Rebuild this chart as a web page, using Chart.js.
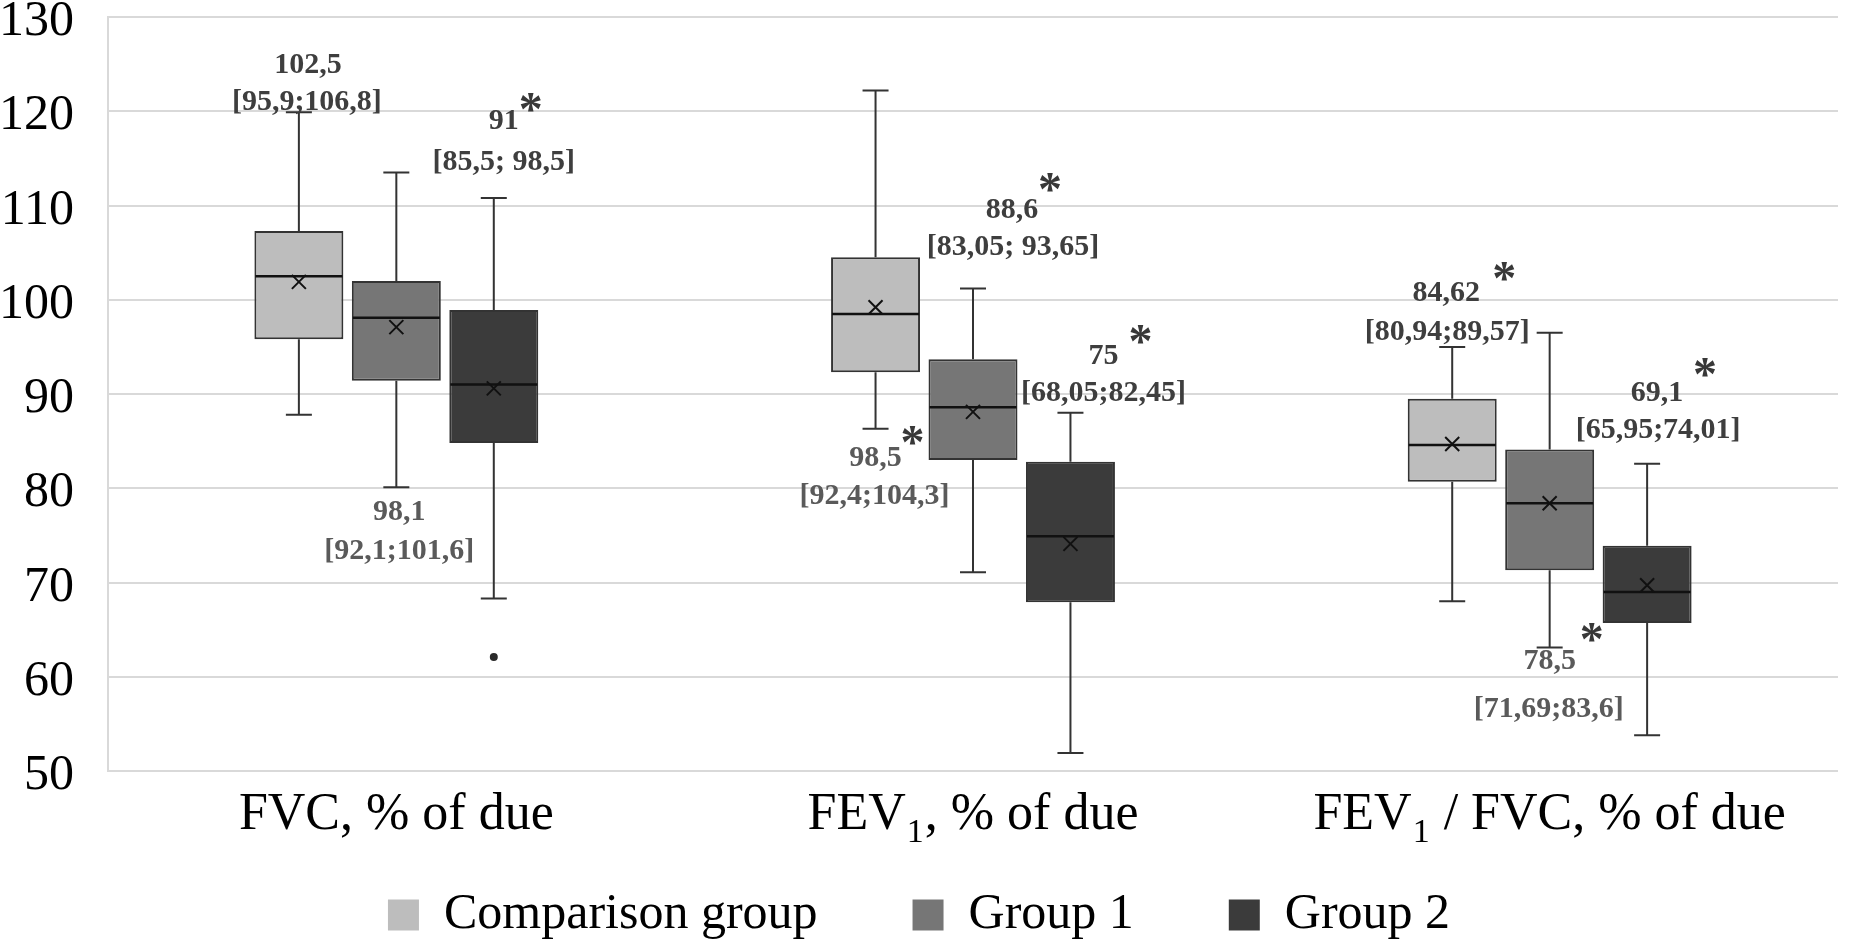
<!DOCTYPE html>
<html>
<head>
<meta charset="utf-8">
<script src="https://cdn.jsdelivr.net/npm/chart.js@4.4.1/dist/chart.umd.min.js"></script>
<style>
    body { margin: 0; background: #ffffff; }
    #wrap { width: 1852px; height: 950px; }
</style>
</head>
<body>
<div id="wrap"><canvas id="spiro"></canvas></div>
<script>
// categories and groups
var categories = ["FVC, % of due", "FEV₁, % of due", "FEV₁ / FVC, % of due"];
var groups = ["Comparison group", "Group 1", "Group 2"];

// box plot statistics, one row per group, one value per category
var whiskerLow = [
    [87.8, 86.3, 68.0],
    [80.1, 71.1, 63.1],
    [68.3, 51.9, 53.8],
];
var quartile1 = [
    [95.8, 92.3, 80.7],
    [91.4, 83.0, 71.3],
    [84.8, 67.9, 65.7],
];
var medians = [
    [102.5, 98.5, 84.6],
    [98.1, 88.6, 78.4],
    [91.0, 74.9, 69.0],
];
var quartile3 = [
    [107.3, 104.5, 89.5],
    [102.0, 93.7, 84.1],
    [98.9, 82.8, 73.9],
];
var whiskerHigh = [
    [119.9, 122.2, 95.0],
    [113.5, 101.2, 96.5],
    [110.8, 88.0, 82.6],
];
var means = [
    [101.9, 99.2, 84.7],
    [97.1, 88.1, 78.4],
    [90.6, 74.1, 69.7],
];
var outliers = [
    [[], [], []],
    [[], [], []],
    [[62.1], [], []],
];

// y axis ticks
var yMin = 50;
var yMax = 130;
var yStep = 10;

var fills = ["#bdbdbd", "#767676", "#3b3b3b"];

// median [IQR] annotations: category, group, value anchor, pixel shift
var notes = [
    { c: 0, g: 0, v: 124.9, dx: 9, t: "102,5" },
    { c: 0, g: 0, v: 121.0, dx: 8, t: "[95,9;106,8]" },
    { c: 0, g: 2, v: 118.9, dx: 10, t: "91" },
    { c: 0, g: 2, v: 121.0, dx: 37, t: "*" },
    { c: 0, g: 2, v: 114.6, dx: 10, t: "[85,5; 98,5]" },
    { c: 0, g: 1, v: 77.5, dx: 3, t: "98,1", light: true },
    { c: 0, g: 1, v: 73.3, dx: 3, t: "[92,1;101,6]", light: true },
    { c: 1, g: 1, v: 109.5, dx: 39, t: "88,6" },
    { c: 1, g: 1, v: 112.5, dx: 77, t: "*" },
    { c: 1, g: 1, v: 105.6, dx: 40, t: "[83,05; 93,65]" },
    { c: 1, g: 2, v: 94.0, dx: 33, t: "75" },
    { c: 1, g: 2, v: 96.4, dx: 70, t: "*" },
    { c: 1, g: 2, v: 90.1, dx: 33, t: "[68,05;82,45]" },
    { c: 1, g: 0, v: 83.2, dx: 0, t: "98,5", light: true },
    { c: 1, g: 0, v: 85.6, dx: 37, t: "*" },
    { c: 1, g: 0, v: 79.1, dx: -1, t: "[92,4;104,3]", light: true },
    { c: 2, g: 0, v: 100.7, dx: -6, t: "84,62" },
    { c: 2, g: 0, v: 103.0, dx: 52, t: "*" },
    { c: 2, g: 0, v: 96.6, dx: -5, t: "[80,94;89,57]" },
    { c: 2, g: 2, v: 90.1, dx: 10, t: "69,1" },
    { c: 2, g: 2, v: 92.9, dx: 58, t: "*" },
    { c: 2, g: 2, v: 86.2, dx: 11, t: "[65,95;74,01]" },
    { c: 2, g: 1, v: 61.6, dx: 0, t: "78,5", light: true },
    { c: 2, g: 1, v: 64.8, dx: 42, t: "*" },
    { c: 2, g: 1, v: 56.6, dx: -1, t: "[71,69;83,6]", light: true },
];

var serif = "'Liberation Serif', 'Times New Roman', serif";

// whiskers, medians, means, outliers and the text around the boxes
var boxExtras = {
    id: "boxExtras",
    afterDatasetsDraw: function (chart) {
        var ctx = chart.ctx;
        var y = chart.scales.y;
        ctx.save();
        chart.data.datasets.forEach(function (ds, g) {
            chart.getDatasetMeta(g).data.forEach(function (bar, c) {
                var x = bar.x;
                var half = bar.width / 2;
                var cap = 13;
                ctx.strokeStyle = "#333333";
                ctx.lineWidth = 2;
                ctx.beginPath();
                ctx.moveTo(x, y.getPixelForValue(quartile3[g][c]));
                ctx.lineTo(x, y.getPixelForValue(whiskerHigh[g][c]));
                ctx.moveTo(x - cap, y.getPixelForValue(whiskerHigh[g][c]));
                ctx.lineTo(x + cap, y.getPixelForValue(whiskerHigh[g][c]));
                ctx.moveTo(x, y.getPixelForValue(quartile1[g][c]));
                ctx.lineTo(x, y.getPixelForValue(whiskerLow[g][c]));
                ctx.moveTo(x - cap, y.getPixelForValue(whiskerLow[g][c]));
                ctx.lineTo(x + cap, y.getPixelForValue(whiskerLow[g][c]));
                ctx.stroke();

                // median
                ctx.strokeStyle = "#111111";
                ctx.lineWidth = 2.5;
                ctx.beginPath();
                ctx.moveTo(x - half + 1, y.getPixelForValue(medians[g][c]));
                ctx.lineTo(x + half - 1, y.getPixelForValue(medians[g][c]));
                ctx.stroke();

                // mean
                var my = y.getPixelForValue(means[g][c]);
                ctx.lineWidth = 2;
                ctx.beginPath();
                ctx.moveTo(x - 7, my - 7);
                ctx.lineTo(x + 7, my + 7);
                ctx.moveTo(x - 7, my + 7);
                ctx.lineTo(x + 7, my - 7);
                ctx.stroke();

                // outliers
                ctx.fillStyle = "#2a2a2a";
                outliers[g][c].forEach(function (v) {
                    ctx.beginPath();
                    ctx.arc(x, y.getPixelForValue(v), 4, 0, Math.PI * 2);
                    ctx.fill();
                });
            });
        });

        ctx.textAlign = "center";
        notes.forEach(function (n) {
            var bar = chart.getDatasetMeta(n.g).data[n.c];
            var py = y.getPixelForValue(n.v);
            if (n.t === "*") {
                ctx.font = "bold 48px " + serif;
                ctx.fillStyle = "#383838";
                ctx.textBaseline = "alphabetic";
                ctx.fillText(n.t, bar.x + n.dx, py + 23);
            } else {
                ctx.font = "bold 30px " + serif;
                ctx.fillStyle = n.light ? "#5a5a5a" : "#3e3e3e";
                ctx.textBaseline = "middle";
                ctx.fillText(n.t, bar.x + n.dx, py);
            }
        });
        ctx.restore();
    },
    afterDraw: function (chart) {
        // category labels with a real subscript for FEV1
        var ctx = chart.ctx;
        var xs = chart.scales.x;
        var base = 52;
        var sub = 34;
        var ty = chart.chartArea.bottom + 44;
        ctx.save();
        ctx.fillStyle = "#000000";
        ctx.textBaseline = "middle";
        ctx.textAlign = "left";
        categories.forEach(function (label, i) {
            var parts = label.split("₁");
            var width = 0;
            parts.forEach(function (p, k) {
                ctx.font = base + "px " + serif;
                width += ctx.measureText(p).width;
                if (k < parts.length - 1) {
                    ctx.font = sub + "px " + serif;
                    width += ctx.measureText("1").width + 2;
                }
            });
            var cx = xs.getPixelForValue(i) - width / 2;
            parts.forEach(function (p, k) {
                ctx.font = base + "px " + serif;
                ctx.fillText(p, cx, ty);
                cx += ctx.measureText(p).width;
                if (k < parts.length - 1) {
                    ctx.font = sub + "px " + serif;
                    ctx.fillText("1", cx + 1, ty + 18);
                    cx += ctx.measureText("1").width + 2;
                }
            });
        });
        ctx.restore();
    },
};

var datasets = groups.map(function (name, g) {
    return {
        label: name,
        data: quartile1[g].map(function (v, c) {
            return [v, quartile3[g][c]];
        }),
        backgroundColor: fills[g],
        borderColor: "#333333",
        borderWidth: 2,
        borderSkipped: false,
        categoryPercentage: 0.507,
        barPercentage: 0.913,
    };
});

new Chart(document.getElementById("spiro").getContext("2d"), {
    type: "bar",
    data: {
        labels: categories,
        datasets: datasets,
    },
    options: {
        responsive: true,
        maintainAspectRatio: false,
        animation: false,
        devicePixelRatio: 1,
        layout: {
            padding: { top: 17, right: 14, left: 0, bottom: 0 },
        },
        plugins: {
            tooltip: { enabled: false },
            legend: {
                position: "bottom",
                labels: {
                    boxWidth: 31,
                    boxHeight: 31,
                    padding: 95,
                    color: "#000000",
                    font: { family: serif, size: 50 },
                    generateLabels: function (chart) {
                        return chart.data.datasets.map(function (ds, i) {
                            return {
                                text: ds.label,
                                fillStyle: ds.backgroundColor,
                                strokeStyle: ds.backgroundColor,
                                lineWidth: 0,
                                fontColor: "#000000",
                                hidden: false,
                                datasetIndex: i,
                            };
                        });
                    },
                },
            },
        },
        scales: {
            x: {
                grid: { display: false },
                border: { display: false },
                ticks: { display: false },
                afterFit: function (s) {
                    s.height = 24;
                },
            },
            y: {
                min: yMin,
                max: yMax,
                ticks: {
                    stepSize: yStep,
                    padding: 34,
                    labelOffset: 5,
                    color: "#000000",
                    font: { family: serif, size: 50 },
                },
                grid: {
                    color: "#d9d9d9",
                    lineWidth: 2,
                    drawTicks: false,
                },
                border: { color: "#d9d9d9", width: 2 },
                afterFit: function (s) {
                    s.width = 108;
                    s.paddingTop = 0;
                    s.paddingBottom = 0;
                },
            },
        },
    },
    plugins: [boxExtras],
});
</script>
</body>
</html>
